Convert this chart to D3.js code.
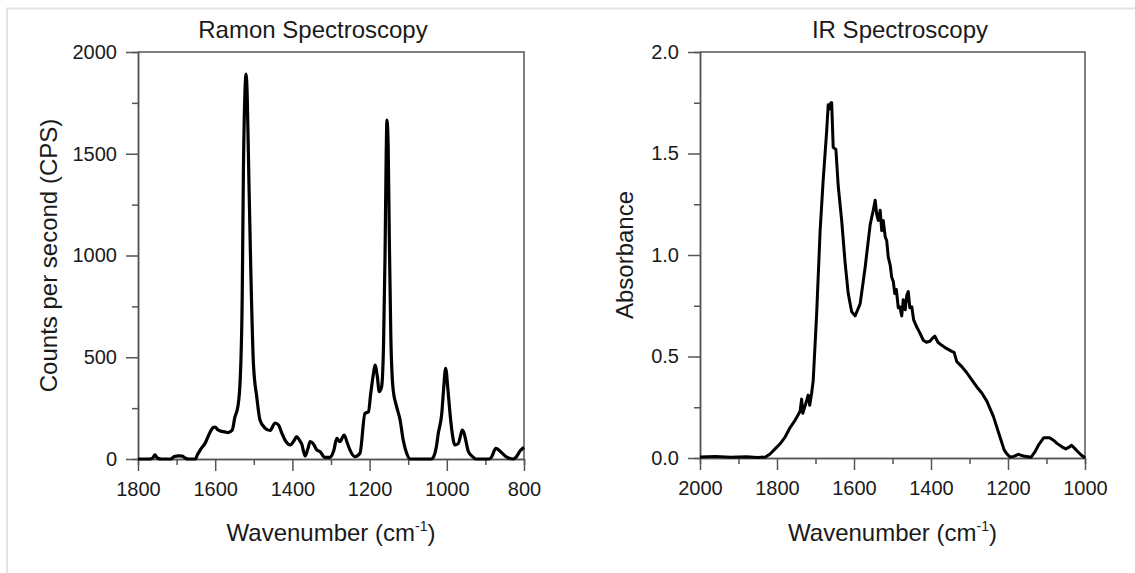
<!DOCTYPE html>
<html>
<head>
<meta charset="utf-8">
<script src="https://cdn.jsdelivr.net/npm/d3@7"></script>
<style>
	body { margin: 0; background: #fff; }
	svg text { font-family: "Liberation Sans", Arial, sans-serif; fill: #1a1a1a; }
</style>
</head>
<body>
<svg id="chart" width="1135" height="573"></svg>
<script>
// Raman spectrum
const ramanWavenumber = [
	1800, 1770, 1762, 1756, 1750, 1740, 1715, 1706, 1695, 1685, 1678, 1668,
	1652, 1645, 1639, 1626, 1613, 1605, 1600, 1594, 1587, 1575, 1567, 1556,
	1549, 1541, 1535, 1530, 1527, 1523, 1520, 1517, 1513, 1508, 1501, 1492,
	1484, 1471, 1458, 1445, 1436, 1428, 1419, 1406, 1396, 1389, 1381, 1376,
	1367, 1360, 1354, 1346, 1337, 1328, 1316, 1303, 1293, 1285, 1277, 1266,
	1258, 1251, 1238, 1225, 1212, 1203, 1197, 1190, 1186, 1180, 1175, 1169,
	1164, 1160, 1157, 1155, 1152, 1149, 1145, 1139, 1130, 1121, 1113, 1104,
	1095, 1040, 1035, 1027, 1022, 1013, 1008, 1003, 997, 992, 987, 979,
	970, 965, 960, 955, 951, 944, 931, 925, 890, 884, 873, 862,
	849, 840, 828, 820, 810, 800
];
const ramanCounts = [
	0, 0, 5, 20, 5, 0, 0, 12, 15, 14, 5, 0,
	0, 25, 44, 78, 133, 155, 157, 145, 138, 133, 130, 142,
	206, 260, 400, 800, 1400, 1800, 1892, 1780, 1400, 950, 470, 300,
	192, 152, 140, 177, 167, 130, 93, 69, 90, 110, 90, 74,
	15, 50, 85, 75, 45, 36, 8, 8, 40, 101, 85, 118,
	80, 45, 11, 28, 224, 232, 323, 420, 462, 405, 331, 355,
	552, 1000, 1500, 1665, 1550, 1100, 600, 341, 257, 192, 94, 28,
	0, 0, 8, 60, 126, 224, 350, 446, 340, 230, 142, 69,
	77, 110, 142, 125, 93, 36, 8, 0, 0, 10, 52, 38,
	15, 5, 0, 10, 40, 57
];

// IR spectrum
const irWavenumber = [
	2000, 1960, 1920, 1880, 1850, 1830, 1818, 1805, 1792, 1780, 1766, 1755,
	1749, 1740, 1736, 1733, 1725, 1719, 1715, 1710, 1706, 1697, 1688, 1680,
	1671, 1667, 1663, 1660, 1658, 1654, 1647, 1641, 1632, 1623, 1615, 1606,
	1597, 1584, 1571, 1558, 1550, 1545, 1541, 1537, 1532, 1528, 1524, 1519,
	1515, 1511, 1506, 1502, 1498, 1494, 1490, 1485, 1481, 1476, 1472, 1467,
	1463, 1459, 1455, 1450, 1445, 1437, 1430, 1420, 1412, 1403, 1396, 1390,
	1382, 1372, 1360, 1346, 1340, 1333, 1320, 1307, 1294, 1281, 1268, 1255,
	1238, 1221, 1210, 1203, 1195, 1185, 1173, 1160, 1140, 1130, 1121, 1107,
	1092, 1080, 1073, 1060, 1050, 1040, 1035, 1028, 1021, 1010, 1002, 1000
];
const irAbsorbance = [
	0.005, 0.008, 0.004, 0.006, 0.003, 0.005, 0.02, 0.045, 0.07, 0.1, 0.15, 0.18,
	0.2, 0.23, 0.29, 0.22, 0.27, 0.31, 0.26, 0.32, 0.38, 0.71, 1.12, 1.37,
	1.61, 1.74, 1.72, 1.75, 1.75, 1.53, 1.52, 1.34, 1.17, 0.96, 0.81, 0.72,
	0.7, 0.76, 0.94, 1.15, 1.22, 1.27, 1.2, 1.17, 1.22, 1.12, 1.17, 1.09,
	1.07, 0.99, 0.95, 0.89, 0.87, 0.81, 0.83, 0.74, 0.745, 0.7, 0.78, 0.73,
	0.8, 0.82, 0.74, 0.745, 0.68, 0.645, 0.62, 0.58, 0.57, 0.575, 0.59, 0.6,
	0.57, 0.555, 0.54, 0.525, 0.52, 0.475, 0.45, 0.42, 0.385, 0.35, 0.32, 0.28,
	0.205, 0.105, 0.04, 0.02, 0.005, 0.008, 0.018, 0.01, 0.004, 0.03, 0.063, 0.1,
	0.1, 0.085, 0.072, 0.055, 0.045, 0.055, 0.063, 0.05, 0.036, 0.015, 0.004, 0
];

// tick values
const ramanXMajor = [1800, 1600, 1400, 1200, 1000, 800];
const ramanXMinor = [1700, 1500, 1300, 1100, 900];
const ramanYMajor = [0, 500, 1000, 1500, 2000];
const ramanYMinor = [250, 750, 1250, 1750];
const irXMajor = [2000, 1800, 1600, 1400, 1200, 1000];
const irXMinor = [1900, 1700, 1500, 1300, 1100];
const irYMajor = [0, 0.5, 1.0, 1.5, 2.0];
const irYMinor = [0.25, 0.75, 1.25, 1.75];

const svg = d3.select('#chart');

// light frame round the picture
svg.append('path')
	.attr('d', 'M7,573V8.5H1135')
	.attr('fill', 'none')
	.attr('stroke', '#e4e4e4')
	.attr('stroke-width', 2);

/**
 * Draws one spectrum panel
 */
function drawPanel(opts) {
	const {box, xDomain, yDomain, xs, ys} = opts;

	const x = d3.scaleLinear().domain(xDomain).range([box.left, box.right]);
	const y = d3.scaleLinear().domain(yDomain).range([box.bottom, box.top]);

	const g = svg.append('g');

	// top and right frame
	g.append('path')
		.attr('d', `M${box.left},${box.top}H${box.right}V${box.bottom}`)
		.attr('fill', 'none')
		.attr('stroke', '#555')
		.attr('stroke-width', 1.5);

	const styleAxis = sel => {
		sel.selectAll('path.domain').attr('stroke', '#555').attr('stroke-width', 1.5);
		sel.selectAll('line').attr('stroke', '#555').attr('stroke-width', 1.5);
		sel.selectAll('text')
			.style('font-size', '20px')
			.attr('fill', '#222');
	};

	// minor ticks first
	g.append('g')
		.attr('transform', `translate(0,${box.bottom})`)
		.call(d3.axisBottom(x).tickValues(opts.xMinor).tickSize(6).tickFormat(''))
		.call(styleAxis);
	g.append('g')
		.attr('transform', `translate(${box.left},0)`)
		.call(d3.axisLeft(y).tickValues(opts.yMinor).tickSize(6).tickFormat(''))
		.call(styleAxis);

	g.append('g')
		.attr('transform', `translate(0,${box.bottom})`)
		.call(d3.axisBottom(x).tickValues(opts.xMajor).tickSize(12).tickSizeOuter(0)
			.tickPadding(11).tickFormat(d3.format('d')))
		.call(styleAxis);
	g.append('g')
		.attr('transform', `translate(${box.left},0)`)
		.call(d3.axisLeft(y).tickValues(opts.yMajor).tickSize(12).tickSizeOuter(0)
			.tickPadding(9).tickFormat(opts.yFormat))
		.call(styleAxis);

	const line = d3.line()
		.x(i => x(xs[i]))
		.y(i => y(ys[i]))
		.curve(opts.curve);

	g.append('path')
		.datum(d3.range(xs.length))
		.attr('d', line)
		.attr('fill', 'none')
		.attr('stroke', '#000')
		.attr('stroke-width', opts.lineWidth)
		.attr('stroke-linejoin', 'round');

	// title
	g.append('text')
		.attr('x', opts.titleX)
		.attr('y', 38)
		.attr('text-anchor', 'middle')
		.style('font-size', '24px')
		.text(opts.title);

	// x label with superscript
	const xl = g.append('text')
		.attr('x', (box.left + box.right) / 2)
		.attr('y', 541)
		.attr('text-anchor', 'middle')
		.style('font-size', '24px');
	xl.append('tspan').text('Wavenumber (cm');
	xl.append('tspan').attr('dy', -10).style('font-size', '14px').text('-1');
	xl.append('tspan').attr('dy', 10).text(')');

	// y label
	g.append('text')
		.attr('transform', `translate(${opts.yLabelX},${(box.top + box.bottom) / 2}) rotate(-90)`)
		.attr('text-anchor', 'middle')
		.style('font-size', '24px')
		.text(opts.yLabel);
}

drawPanel({
	box: {left: 138, right: 524, top: 52, bottom: 459},
	xDomain: [1800, 800],
	yDomain: [0, 2000],
	xs: ramanWavenumber,
	ys: ramanCounts,
	xMajor: ramanXMajor,
	xMinor: ramanXMinor,
	yMajor: ramanYMajor,
	yMinor: ramanYMinor,
	yFormat: d3.format('d'),
	curve: d3.curveMonotoneX,
	lineWidth: 3.2,
	title: 'Ramon Spectroscopy',
	titleX: 313,
	yLabel: 'Counts per second (CPS)',
	yLabelX: 57,
});

drawPanel({
	box: {left: 700, right: 1085, top: 52, bottom: 458},
	xDomain: [2000, 1000],
	yDomain: [0, 2.0],
	xs: irWavenumber,
	ys: irAbsorbance,
	xMajor: irXMajor,
	xMinor: irXMinor,
	yMajor: irYMajor,
	yMinor: irYMinor,
	yFormat: d3.format('.1f'),
	curve: d3.curveLinear,
	lineWidth: 3,
	title: 'IR Spectroscopy',
	titleX: 900,
	yLabel: 'Absorbance',
	yLabelX: 633,
});
</script>
</body>
</html>
